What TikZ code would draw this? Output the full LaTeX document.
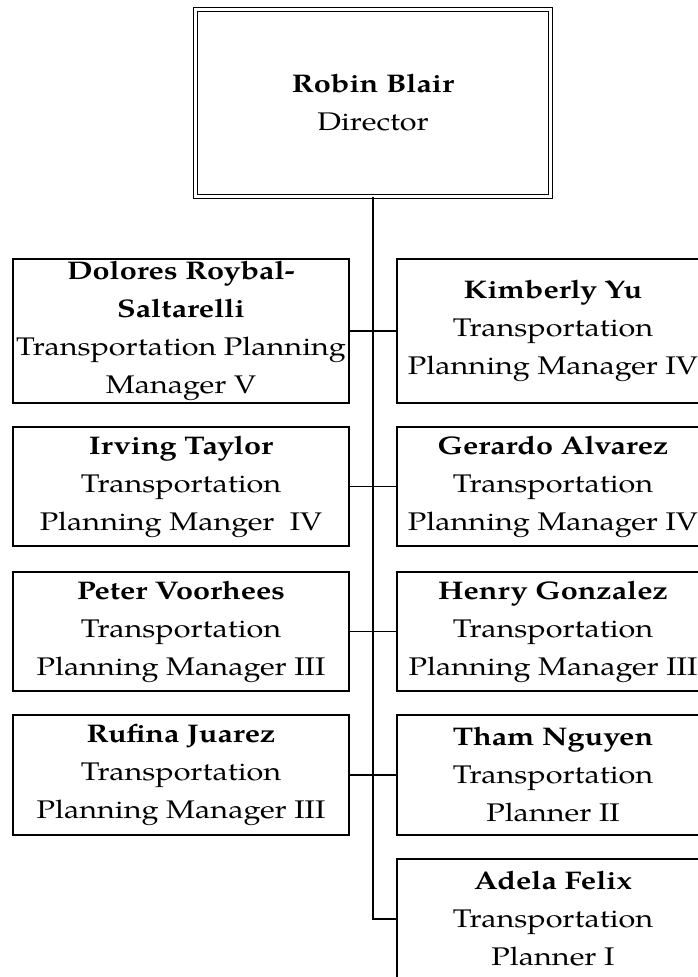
\documentclass[tikz,border=0pt]{standalone}
\usepackage{fontspec}
\setmainfont[FakeStretch=1.2]{TeX Gyre Pagella}
\begin{document}
\begin{tikzpicture}[x=1pt,y=-1pt,
  txt/.style={align=center, font=\fontsize{25.5}{38}\selectfont},
  box/.style={draw, line width=1.2pt, rectangle, inner sep=0pt, txt},
  lbox/.style={box, minimum width=336pt},
  rbox/.style={box, minimum width=312pt},
  conn/.style={line width=1.2pt}]
\useasboundingbox (0,0) rectangle (698,977);
\clip (0,0) rectangle (698,977);
\node[draw, double, double distance=2.4pt, line width=1.2pt, minimum width=355pt,
  minimum height=187pt, inner sep=0pt, txt] (dir) at (373,103) {\textbf{Robin Blair}\\Director};
% left column
\node[lbox, minimum height=144pt] (dol) at (181,331)
  {\textbf{Dolores Roybal-}\\\textbf{Saltarelli}\\Transportation Planning\\Manager V};
\node[lbox, minimum height=119pt] (irv) at (181,486.5)
  {\textbf{Irving Taylor}\\Transportation\\Planning Manger~ IV};
\node[lbox, minimum height=119pt] (pet) at (181,631.5)
  {\textbf{Peter Voorhees}\\Transportation\\Planning Manager III};
\node[lbox, minimum height=120pt] (ruf) at (181,775)
  {\textbf{Rufina Juarez}\\Transportation\\Planning Manager III};
% right column
\node[rbox, minimum height=144pt] (kim) at (553,331)
  {\textbf{Kimberly Yu}\\Transportation\\Planning Manager IV};
\node[rbox, minimum height=119pt] (ger) at (553,486.5)
  {\textbf{Gerardo Alvarez}\\Transportation\\Planning Manager IV};
\node[rbox, minimum height=119pt] (hen) at (553,631.5)
  {\textbf{Henry Gonzalez}\\Transportation\\Planning Manager III};
\node[rbox, minimum height=120pt] (tha) at (553,775)
  {\textbf{Tham Nguyen}\\Transportation\\Planner II};
\node[rbox, minimum height=120pt] (ade) at (553,919)
  {\textbf{Adela Felix}\\Transportation\\Planner I};
% connectors
\coordinate (trunkend) at (dir.south |- ade.west);
\draw[conn] (dir.south) -- (trunkend) -- (ade.west);
\draw[conn] (dol.east) -- (kim.west);
\draw[conn] (irv.east) -- (ger.west);
\draw[conn] (pet.east) -- (hen.west);
\draw[conn] (ruf.east) -- (tha.west);
\end{tikzpicture}
\end{document}
